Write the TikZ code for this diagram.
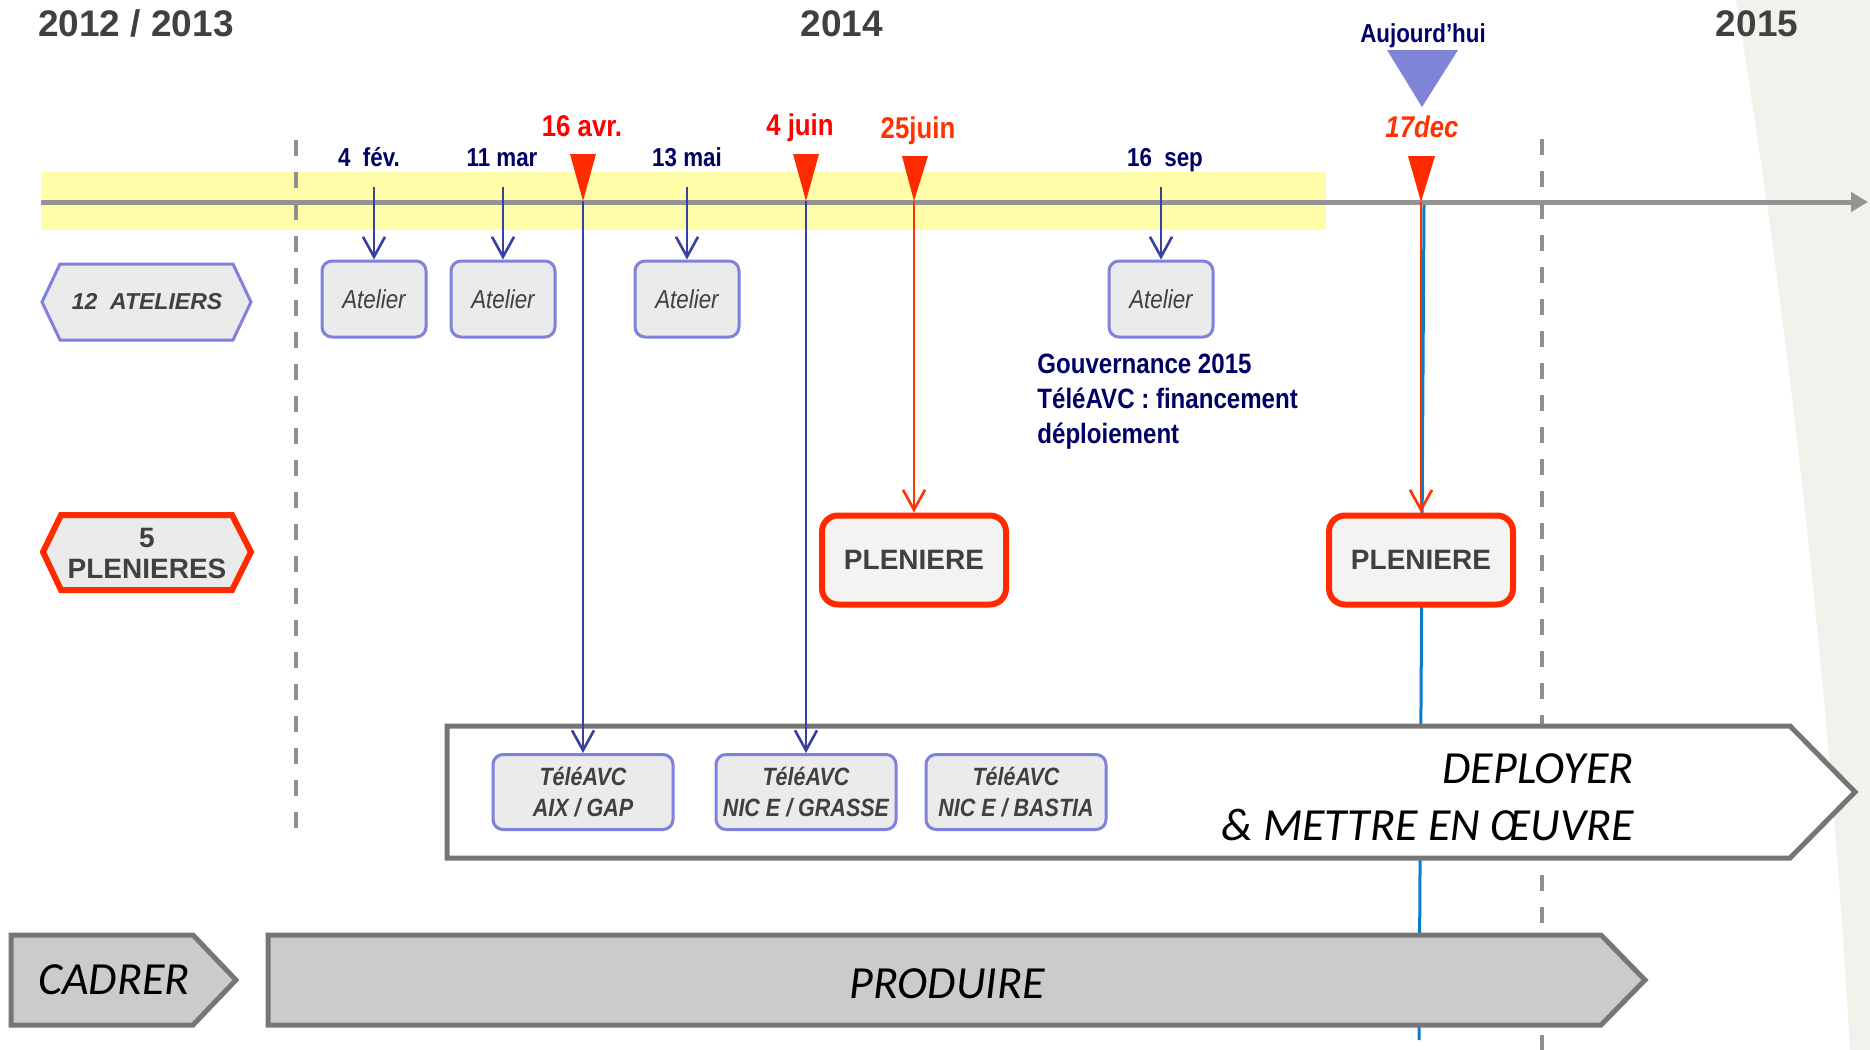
\documentclass[tikz,border=0pt]{standalone}
\usepackage{fontspec}
\setmainfont{Liberation Sans}
\newfontfamily\nf[FakeStretch=0.86]{Liberation Sans}
\newfontfamily\cf{Carlito}
\usetikzlibrary{arrows.meta}
\definecolor{navy}{HTML}{000066}
\definecolor{txtgray}{HTML}{404040}
\definecolor{redA}{HTML}{FF0000}
\definecolor{redB}{HTML}{FF2A00}
\definecolor{redC}{HTML}{FF3300}
\definecolor{bluea}{HTML}{373FA0}
\definecolor{peri}{HTML}{8080DD}
\definecolor{todaytri}{HTML}{7F84D9}
\definecolor{boxfill}{HTML}{EBEBEB}
\definecolor{plenfill}{HTML}{F3F3F3}
\definecolor{strokegray}{HTML}{767676}
\definecolor{phasefill}{HTML}{CBCBCB}
\definecolor{todayblue}{HTML}{0A7BC8}
\definecolor{bandyellow}{HTML}{FFFCAA}
\definecolor{axisgray}{HTML}{939393}
\definecolor{dashgray}{HTML}{8F8F8F}
\definecolor{beige}{HTML}{F3F1EC}
\begin{document}
\begin{tikzpicture}[x=0.5pt,y=-0.5pt,
  yearlbl/.style={font=\bfseries\fontsize{18.5}{22}\selectfont, text=txtgray, inner sep=0pt, anchor=base},
  navylbl/.style={font=\nf\bfseries\fontsize{13}{15}\selectfont, text=navy, inner sep=0pt, anchor=base},
  redlbl/.style={font=\nf\bfseries\fontsize{15}{18}\selectfont, text=redA, inner sep=0pt, anchor=base},
  atbox/.style={draw=peri, line width=1.5pt, fill=boxfill, rounded corners=5pt, minimum width=52pt, minimum height=38pt, inner sep=0pt, font=\nf\itshape\fontsize{13}{15}\selectfont, text=txtgray},
  tvbox/.style={atbox, minimum width=90pt, minimum height=37.5pt, font=\nf\bfseries\itshape\fontsize{12.5}{15.5}\selectfont, align=center},
  plbox/.style={draw=redB, line width=3pt, fill=plenfill, rounded corners=8pt, minimum width=92pt, minimum height=44.5pt, inner sep=0pt, font=\bfseries\fontsize{14}{16}\selectfont, text=txtgray},
  barb/.style={-{Straight Barb[length=10pt,width=11pt,line width=1.3pt]}},
  bluecon/.style={barb, draw=bluea, line width=0.75pt},
  redcon/.style={barb, draw=redC, line width=0.75pt},
  phase/.style={draw=strokegray, line width=2.5pt, line join=miter},
  phaselbl/.style={font=\cf\itshape\fontsize{23}{27}\selectfont, text=black, inner sep=0pt},
  govlbl/.style={font=\nf\bfseries\fontsize{14}{17}\selectfont, text=navy, inner sep=0pt, anchor=base west},
  dashline/.style={draw=dashgray, line width=1.75pt, dash pattern=on 8pt off 8pt},
]
\useasboundingbox (0,0) rectangle (1870,1050);
\fill[white] (0,0) rectangle (1870,1050);
\fill[beige] (1736,0) .. controls (1790,330) and (1830,700) .. (1850,1050) -- (1870,1050) -- (1870,0) -- cycle;

% yellow band
\fill[bandyellow] (41,172) rectangle (1326,230);

% dashed separators
\draw[dashline] (296,140) -- (296,842);
\draw[dashline] (1542,139) -- (1542,1050);

% time axis
\draw[axisgray, line width=2.5pt, -{Triangle[length=8.5pt,width=9.5pt]}] (41,202) -- (1868,202);

% today line
\draw[todayblue, line width=1.5pt] (1424,205) -- (1419,1040);

% phases
\filldraw[phase, fill=white] (447,726) -- (1790,726) -- (1855,792) -- (1790,858) -- (447,858) -- cycle;
\filldraw[phase, fill=phasefill] (268,935) -- (1601,935) -- (1645,980) -- (1601,1025) -- (268,1025) -- cycle;
\filldraw[phase, fill=phasefill] (11,935) -- (193,935) -- (236,980) -- (193,1025) -- (11,1025) -- cycle;
\node[phaselbl, anchor=base east] (dep1) at (1634,783) {DEPLOYER};
\node[phaselbl, anchor=base east] (dep2) at (1634,840) {\& METTRE EN ŒUVRE};
\node[phaselbl] (cad) at (114,980) {CADRER};
\node[phaselbl] (prod) at (947,984) {PRODUIRE};

% hexagons
\filldraw[draw=peri, line width=1.5pt, fill=boxfill] (42,302) -- (60,264) -- (233,264) -- (251,302) -- (233,340) -- (60,340) -- cycle;
\node[font=\bfseries\itshape\fontsize{11.5}{14}\selectfont, text=txtgray, inner sep=0pt] (hexA) at (147,302) {12\ \ ATELIERS};
\filldraw[draw=redB, line width=3pt, fill=boxfill] (43,552) -- (61,515) -- (232,515) -- (251,552) -- (232,590) -- (61,590) -- cycle;
\node[font=\bfseries\fontsize{14}{15.5}\selectfont, text=txtgray, inner sep=0pt, align=center] (hexP) at (147,553) {5\\PLENIERES};

% years
\node[yearlbl] (y1) at (136,36) {2012 / 2013};
\node[yearlbl] (y2) at (842,36) {2014};
\node[yearlbl] (y3) at (1757,36) {2015};

% boxes
\node[atbox] (at1) at (374,299) {Atelier};
\node[atbox] (at2) at (503,299) {Atelier};
\node[atbox] (at3) at (687,299) {Atelier};
\node[atbox] (at4) at (1161,299) {Atelier};
\node[tvbox] (tv1) at (583,792) {TéléAVC\\AIX / GAP};
\node[tvbox] (tv2) at (806,792) {TéléAVC\\NIC E / GRASSE};
\node[tvbox] (tv3) at (1016,792) {TéléAVC\\NIC E / BASTIA};
\node[plbox] (pl1) at (914,560) {PLENIERE};
\node[plbox] (pl2) at (1421,560) {PLENIERE};

% date labels
\node[navylbl] (d1) at (369,166) {4\ \ fév.};
\node[navylbl] (d2) at (502,166) {11 mar};
\node[navylbl] (d3) at (687,166) {13 mai};
\node[navylbl] (d4) at (1165,166) {16\ \ sep};
\node[redlbl] (r1) at (582,136) {16 avr.};
\node[redlbl] (r2) at (800,135) {4 juin};
\node[redlbl, text=redC] (r3) at (918,138) {25juin};
\node[redlbl, text=redC, font=\nf\bfseries\itshape\fontsize{15}{18}\selectfont] (r4) at (1422,137) {17dec};
\node[navylbl] (today) at (1423,42) {Aujourd’hui};

% governance note
\node[govlbl] (g1) at (1037,373) {Gouvernance 2015};
\node[govlbl] (g2) at (1037,408) {TéléAVC : financement};
\node[govlbl] (g3) at (1037,443) {déploiement};

% start points
\coordinate (s1) at (374,187);
\coordinate (s2) at (503,187);
\coordinate (s3) at (687,187);
\coordinate (s4) at (1161,187);
\coordinate (t1) at (583,201);
\coordinate (t2) at (806,201);
\coordinate (t3) at (914,201);
\coordinate (t4) at (1421,202);

% connectors
\draw[bluecon] (s1) -- (at1.north);
\draw[bluecon] (s2) -- (at2.north);
\draw[bluecon] (s3) -- (at3.north);
\draw[bluecon] (s4) -- (at4.north);
\draw[bluecon] (t1) -- (tv1.north);
\draw[bluecon] (t2) -- (tv2.north);
\draw[redcon] (t3) -- (pl1.north);
\draw[redcon] (t4) -- (pl2.north);

% milestone triangles
\fill[redB] (570,154) -- (596,154) -- (t1) -- cycle;
\fill[redB] (793,154) -- (819,154) -- (t2) -- cycle;
\fill[redB] (902,156) -- (928,156) -- (t3) -- cycle;
\fill[redB] (1408,156) -- (1435,156) -- (t4) -- cycle;
\fill[todaytri] (1387,50) -- (1458,50) -- (1422,107) -- cycle;
\end{tikzpicture}
\end{document}
